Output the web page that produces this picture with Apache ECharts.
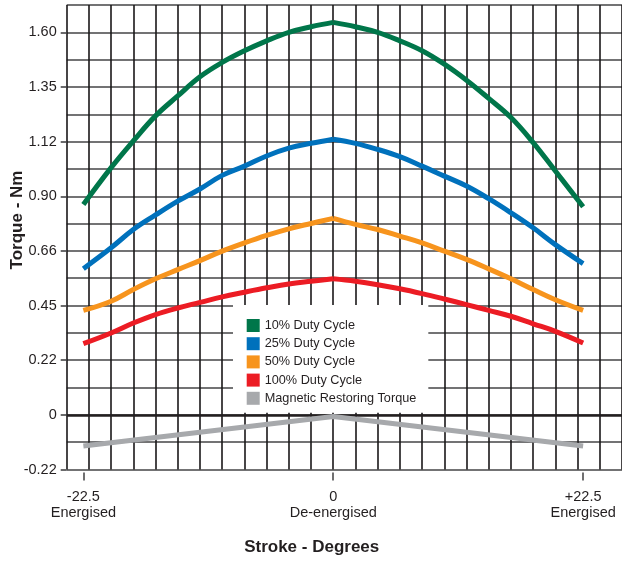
<!DOCTYPE html>
<html>
<head>
<meta charset="utf-8">
<script src="https://cdn.jsdelivr.net/npm/echarts@6/dist/echarts.min.js"></script>
<style>
html,body{margin:0;padding:0;background:#fff;}
#chart{width:622px;height:561px;}
</style>
</head>
<body>
<div id="chart"></div>
<script>
// Stroke positions (degrees) for the duty-cycle curves
const stroke = [-22.5, -20, -18, -16, -14, -12, -10, -8, -6, -4, -2, 0, 2, 4, 6, 8, 10, 12, 14, 16, 18, 20, 22.5];
const duty10 = [0.866, 1.018, 1.128, 1.231, 1.313, 1.392, 1.451, 1.499, 1.540, 1.575, 1.598, 1.616, 1.598, 1.575, 1.540, 1.499, 1.444, 1.378, 1.303, 1.224, 1.121, 1.004, 0.857];
const duty25 = [0.602, 0.688, 0.763, 0.823, 0.880, 0.930, 0.986, 1.024, 1.066, 1.098, 1.118, 1.135, 1.118, 1.093, 1.063, 1.024, 0.983, 0.942, 0.890, 0.832, 0.770, 0.701, 0.623];
const duty50 = [0.430, 0.468, 0.516, 0.560, 0.598, 0.635, 0.674, 0.708, 0.739, 0.766, 0.788, 0.809, 0.784, 0.763, 0.736, 0.708, 0.674, 0.640, 0.601, 0.560, 0.516, 0.474, 0.430];
const duty100 = [0.293, 0.337, 0.378, 0.413, 0.440, 0.463, 0.486, 0.505, 0.523, 0.539, 0.550, 0.560, 0.550, 0.536, 0.519, 0.499, 0.477, 0.454, 0.430, 0.406, 0.375, 0.344, 0.296];
// Magnetic restoring torque (straight segments)
const restoreStroke = [-22.5, 0, 22.5];
const restoreTorque = [-0.128, -0.007, -0.128];

const seriesNames = ['10% Duty Cycle', '25% Duty Cycle', '50% Duty Cycle', '100% Duty Cycle', 'Magnetic Restoring Torque'];

// Axis tick values and their printed labels
const yTickValues = [-0.225, 0, 0.225, 0.45, 0.675, 0.9, 1.125, 1.35, 1.575];
const yTickLabels = ['-0.22', '0', '0.22', '0.45', '0.66', '0.90', '1.12', '1.35', '1.60'];
const xTickValues = [-22.5, 0, 22.5];
const xTickLabels = ['-22.5\nEnergised', '0\nDe-energised', '+22.5\nEnergised'];

const colors = ['#00764a', '#0071bc', '#f7941d', '#ec1c24', '#a7a9ac'];
const FONT = '"Liberation Sans", Arial, Helvetica, sans-serif';
const TXT = '#231f20';

function pairs(xs, ys) { return xs.map((x, i) => [x, ys[i]]); }

const curveData = [duty10, duty25, duty50, duty100];
const peak = stroke.indexOf(0);
const series = [];
curveData.forEach((d, i) => {
  const all = pairs(stroke, d);
  [all.slice(0, peak + 1), all.slice(peak)].forEach(part => {
    series.push({
      name: seriesNames[i],
      type: 'line',
      xAxisIndex: 0, yAxisIndex: 0,
      data: part,
      smooth: 0.4,
      showSymbol: false,
      symbol: 'none',
      lineStyle: { color: colors[i], width: 5, cap: 'butt', join: 'miter' },
      itemStyle: { color: colors[i] },
      z: 3
    });
  });
});
series.push({
  name: seriesNames[4],
  type: 'line',
  xAxisIndex: 0, yAxisIndex: 0,
  data: pairs(restoreStroke, restoreTorque),
  showSymbol: false,
  symbol: 'none',
  lineStyle: { color: colors[4], width: 5, cap: 'butt' },
  itemStyle: { color: colors[4] },
  z: 3,
  markLine: {
    silent: true,
    symbol: ['none', 'none'],
    label: { show: false },
    lineStyle: { color: TXT, width: 2.5, type: 'solid' },
    data: [{ yAxis: 0 }],
    z: 2
  }
});

const chart = echarts.init(document.getElementById('chart'), null, { renderer: 'canvas' });
chart.setOption({
  animation: false,
  backgroundColor: '#ffffff',
  grid: { left: 66.7, right: -1, top: 5, bottom: 91.5, containLabel: false },
  xAxis: [
    {
      type: 'value', min: -24, max: 26, interval: 2,
      axisLine: { show: false, onZero: false }, axisTick: { show: false }, axisLabel: { show: false },
      splitLine: { show: true, lineStyle: { color: '#1a1718', width: 1.6 } }
    },
    {
      type: 'value', min: -24, max: 26, position: 'bottom', offset: 3,
      axisLine: { show: false, onZero: false },
      splitLine: { show: false },
      axisTick: { show: true, length: 8, customValues: xTickValues, lineStyle: { color: '#414042', width: 1.5 } },
      axisLabel: {
        show: true, customValues: xTickValues, margin: 16,
        fontFamily: FONT, fontSize: 14.5, lineHeight: 16, color: TXT, align: 'center',
        formatter: function (v) { const i = xTickValues.indexOf(v); return i >= 0 ? xTickLabels[i] : ''; }
      }
    }
  ],
  yAxis: [
    {
      type: 'value', min: -0.225, max: 1.6875, interval: 0.1125,
      axisLine: { show: false, onZero: false }, axisTick: { show: false }, axisLabel: { show: false },
      splitLine: { show: true, lineStyle: { color: '#444446', width: 1.6 } }
    },
    {
      type: 'value', min: -0.225, max: 1.6875, position: 'left',
      axisLine: { show: false, onZero: false },
      splitLine: { show: false },
      axisTick: { show: true, inside: false, length: 6, customValues: yTickValues, lineStyle: { color: '#444446', width: 1.6 } },
      axisLabel: {
        show: true, customValues: yTickValues, margin: 10,
        fontFamily: FONT, fontSize: 14.5, color: TXT,
        formatter: function (v) {
          let best = -1, bd = 1e9;
          yTickValues.forEach((t, i) => { const d = Math.abs(t - v); if (d < bd) { bd = d; best = i; } });
          return bd < 1e-6 ? yTickLabels[best] : '';
        }
      }
    }
  ],
  legend: {
    orient: 'vertical',
    left: 233, top: 305,
    padding: [14, 12, 8, 13.7],
    backgroundColor: '#ffffff',
    icon: 'rect',
    itemWidth: 13, itemHeight: 13, itemGap: 5.2,
    textStyle: { fontFamily: FONT, fontSize: 12.7, color: TXT, lineHeight: 13 },
    data: seriesNames,
    selectedMode: false,
    z: 10
  },
  graphic: [
    {
      type: 'text', x: 17, y: 220, rotation: Math.PI / 2,
      style: { text: 'Torque - Nm', fontFamily: FONT, fontWeight: 'bold', fontSize: 17, fill: TXT, align: 'center', verticalAlign: 'middle' }
    },
    {
      type: 'text', x: 311.7, y: 547,
      style: { text: 'Stroke - Degrees', fontFamily: FONT, fontWeight: 'bold', fontSize: 17, fill: TXT, align: 'center', verticalAlign: 'middle' }
    }
  ],
  series: series
});
</script>
</body>
</html>
